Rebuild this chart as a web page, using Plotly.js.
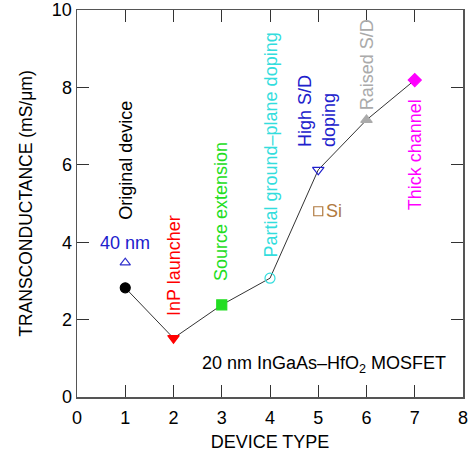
<!DOCTYPE html>
<html><head><meta charset="utf-8">
<script src="https://cdn.plot.ly/plotly-3.0.1.min.js"></script>
<style>html,body{margin:0;padding:0;background:#fff;}#g{width:473px;height:452px;}</style>
</head><body><div id="g"></div>
<script>
// Data
const deviceType = [1, 2, 3, 4, 5, 6, 7];
const gm = [2.82, 1.52, 2.38, 3.07, 5.87, 7.16, 8.19];
const pointSymbols = ['circle', 'triangle-down', 'square', 'circle-open', 'triangle-down-open', 'triangle-up', 'diamond'];
const pointColors = ['#000000', '#ff0000', '#22dd22', '#33dddd', '#2020cc', '#aaaaaa', '#ff00ff'];
const labels = ['Original device', 'InP launcher', 'Source extension', 'Partial ground\u2013plane doping', 'High S/D<br>doping', 'Raised S/D', 'Thick channel'];
const labelX = [1, 2, 3, 4, 4.97, 6, 7];
const labelYBottom = [4.52, 2.04, 2.95, 3.54, 6.4, 7.36, 4.78];
const ref40nmX = [1], ref40nmY = [3.47];
const siX = [5], siY = [4.8];
const xTicks = [0, 1, 2, 3, 4, 5, 6, 7, 8];
const yTicks = [0, 2, 4, 6, 8, 10];

const font = 'Liberation Sans, Arial, Helvetica, sans-serif';
const fs = 18;

const traces = [
  {x: deviceType, y: gm, type: 'scatter', mode: 'lines+markers',
   line: {color: '#333333', width: 1},
   marker: {symbol: pointSymbols, color: pointColors, size: 10,
            line: {color: pointColors, width: 1.2}},
   showlegend: false, cliponaxis: false},
  {x: ref40nmX, y: ref40nmY, type: 'scatter', mode: 'markers',
   marker: {symbol: 'triangle-up-open', color: '#3030cc', size: 9, line: {width: 1.2}}, showlegend: false},
  {x: siX, y: siY, type: 'scatter', mode: 'markers',
   marker: {symbol: 'square-open', color: '#b07a40', size: 9, line: {width: 1.2}}, showlegend: false}
];

const annotations = labels.map((t, i) => ({
  x: labelX[i], y: labelYBottom[i], xref: 'x', yref: 'y', text: t, textangle: -90,
  showarrow: false, xanchor: 'center', yanchor: 'bottom', align: 'left',
  font: {family: font, size: fs, color: pointColors[i]}
}));
annotations.push({x: 1, y: 3.98, xref: 'x', yref: 'y', text: '40 nm', showarrow: false,
  font: {family: font, size: fs, color: '#2020cc'}, xanchor: 'center', yanchor: 'middle'});
annotations.push({x: 5.12, y: siY[0], xref: 'x', yref: 'y', text: 'Si', showarrow: false,
  font: {family: font, size: fs, color: '#b07a40'}, xanchor: 'left', yanchor: 'middle'});
annotations.push({x: 5.12, y: 0.83, xref: 'x', yref: 'y', text: '20 nm InGaAs\u2013HfO<sub>2</sub> MOSFET', showarrow: false,
  font: {family: font, size: fs, color: '#000'}, xanchor: 'center', yanchor: 'middle'});

const axisCommon = {showgrid: false, zeroline: false, showline: true, mirror: 'allticks',
  linecolor: '#555555', linewidth: 1.5, ticks: 'inside', ticklen: 12, tickcolor: '#333',
  tickfont: {family: font, size: fs, color: '#000'}};

const layout = {
  width: 473, height: 452,
  margin: {l: 77, r: 10, t: 10, b: 55},
  paper_bgcolor: '#fff', plot_bgcolor: '#fff',
  xaxis: Object.assign({}, axisCommon, {range: [0, 8], tickvals: xTicks, ticktext: xTicks.map(String),
    ticklabelstandoff: 4,
    title: {text: 'DEVICE TYPE', font: {family: font, size: fs, color: '#000'}, standoff: 10}}),
  yaxis: Object.assign({}, axisCommon, {range: [0, 10], tickvals: yTicks, ticktext: yTicks.map(String),
    title: {text: 'TRANSCONDUCTANCE (mS/\u03bcm)', font: {family: font, size: 17.5, color: '#000'}, standoff: 14}}),
  annotations: annotations
};

Plotly.newPlot('g', traces, layout, {displayModeBar: false, staticPlot: true});
</script></body></html>
